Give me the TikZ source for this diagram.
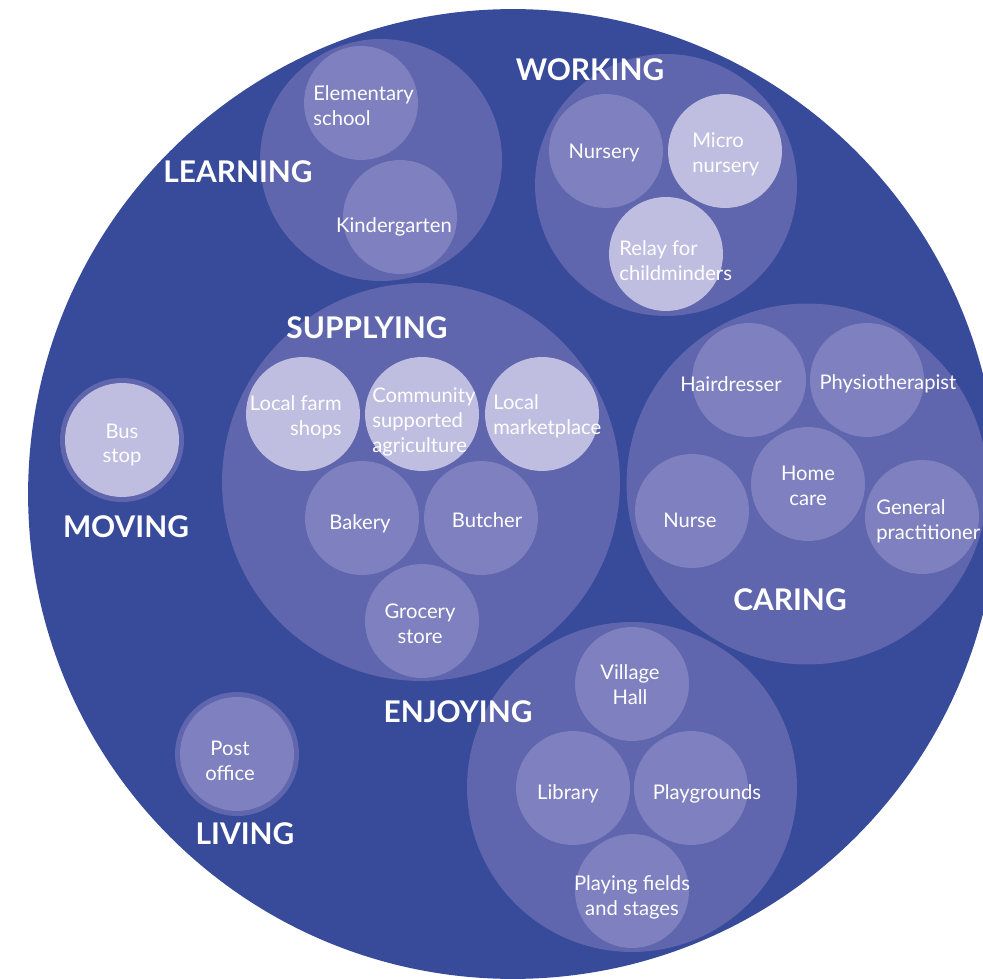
\documentclass[tikz,border=0pt]{standalone}
\usepackage{fontspec}
\setmainfont{Lato}
\definecolor{outer-blue}{RGB}{56,74,154}
\definecolor{group-blue}{RGB}{95,102,173}
\definecolor{item-mid}{RGB}{127,128,191}
\definecolor{item-light}{RGB}{191,190,225}
\begin{document}
\begin{tikzpicture}
[
  x=0.02cm, y=-0.02cm,
  blob/.style={circle, inner sep=0pt, outer sep=0pt, draw=none},
  area/.style={blob, fill=group-blue},
  place/.style={blob, fill=item-mid, minimum size=2.28cm},
  placel/.style={blob, fill=item-light, minimum size=2.28cm},
  ring/.style={blob, fill=group-blue, minimum size=2.48cm},
  txt/.style={text=white, font=\fontsize{11.5}{14.2}\selectfont, inner sep=0pt},
  head/.style={text=white, font=\fontsize{17}{20}\selectfont\bfseries, inner sep=0pt},
]
\useasboundingbox (0,0) rectangle (983,979);
\clip (0,0) rectangle (983,979);
\node[blob, fill=outer-blue, minimum size=19.4cm] (world) at (513,494) {};

% groups
\node[area, minimum size=4.84cm] (learning) at (381,160) {};
\node[area, minimum size=5.24cm] (working) at (666,185) {};
\node[area, minimum size=7.96cm] (supplying) at (421,482) {};
\node[area, minimum size=7.22cm] (caring) at (807,484) {};
\node[area, minimum size=6.6cm] (enjoying) at (632,787) {};
\node[ring] (moving) at (122,440) {};
\node[ring] (living) at (237,754) {};

% places
\node[place] (elem) at (361,103) {};
\node[place] (kind) at (400,217) {};
\node[place] (nurs) at (606,151) {};
\node[placel] (micro) at (725,151) {};
\node[placel] (relay) at (666,254) {};
\node[placel] (farm) at (303,414) {};
\node[placel] (csa) at (422,414) {};
\node[placel] (market) at (542,414) {};
\node[place] (bakery) at (362,518) {};
\node[place] (butcher) at (481,518) {};
\node[place] (grocery) at (422,621) {};
\node[place] (hair) at (749,380) {};
\node[place] (physio) at (867,380) {};
\node[place] (home) at (808,484) {};
\node[place] (nurse) at (692,511) {};
\node[place] (gp) at (922,517) {};
\node[place] (village) at (632,684) {};
\node[place] (library) at (573,788) {};
\node[place] (playg) at (691,788) {};
\node[place] (fields) at (632,891) {};
\node[placel] (bus) at (122,440) {};
\node[place] (post) at (237,754) {};

% texts
\node[txt, anchor=west, align=left] (elem-t) at (313,106) {Elementary\\school};
\node[txt] (kind-t) at (394,227) {Kindergarten};
\node[txt] (nurs-t) at (604,153) {Nursery};
\node[txt, anchor=west, align=left] (micro-t) at (692,154) {Micro\\nursery};
\node[txt, anchor=west, align=left] (relay-t) at (619,261) {Relay for\\childminders};
\node[txt, anchor=east, align=right] (farm-t) at (342,417) {Local farm\\shops};
\node[txt, anchor=west, align=left] (csa-t) at (372,422) {Community\\supported\\agriculture};
\node[txt, anchor=west, align=left] (market-t) at (493,416) {Local\\marketplace};
\node[txt] (bakery-t) at (360,524) {Bakery};
\node[txt] (butcher-t) at (487,520) {Butcher};
\node[txt, align=center] (grocery-t) at (420,624) {Grocery\\store};
\node[txt] (hair-t) at (731,384) {Hairdresser};
\node[txt] (physio-t) at (888,384) {Physiotherapist};
\node[txt, align=center] (home-t) at (808,486) {Home\\care};
\node[txt] (nurse-t) at (690,520) {Nurse};
\node[txt, anchor=west, align=left] (gp-t) at (876,521) {General\\practitioner};
\node[txt, align=center] (village-t) at (630,685) {Village\\Hall};
\node[txt] (library-t) at (568,794) {Library};
\node[txt] (playg-t) at (707,794) {Playgrounds};
\node[txt, align=center] (fields-t) at (632,897) {Playing fields\\and stages};
\node[txt, align=center] (bus-t) at (122,445) {Bus\\stop};
\node[txt, align=center] (post-t) at (230,761) {Post\\office};

% headings
\node[head] (learning-h) at (238,172) {LEARNING};
\node[head] (working-h) at (590,70) {WORKING};
\node[head] (supplying-h) at (367,328) {SUPPLYING};
\node[head] (moving-h) at (126,527) {MOVING};
\node[head] (caring-h) at (790,600) {CARING};
\node[head] (enjoying-h) at (458,712) {ENJOYING};
\node[head] (living-h) at (245,834) {LIVING};
\end{tikzpicture}
\end{document}
